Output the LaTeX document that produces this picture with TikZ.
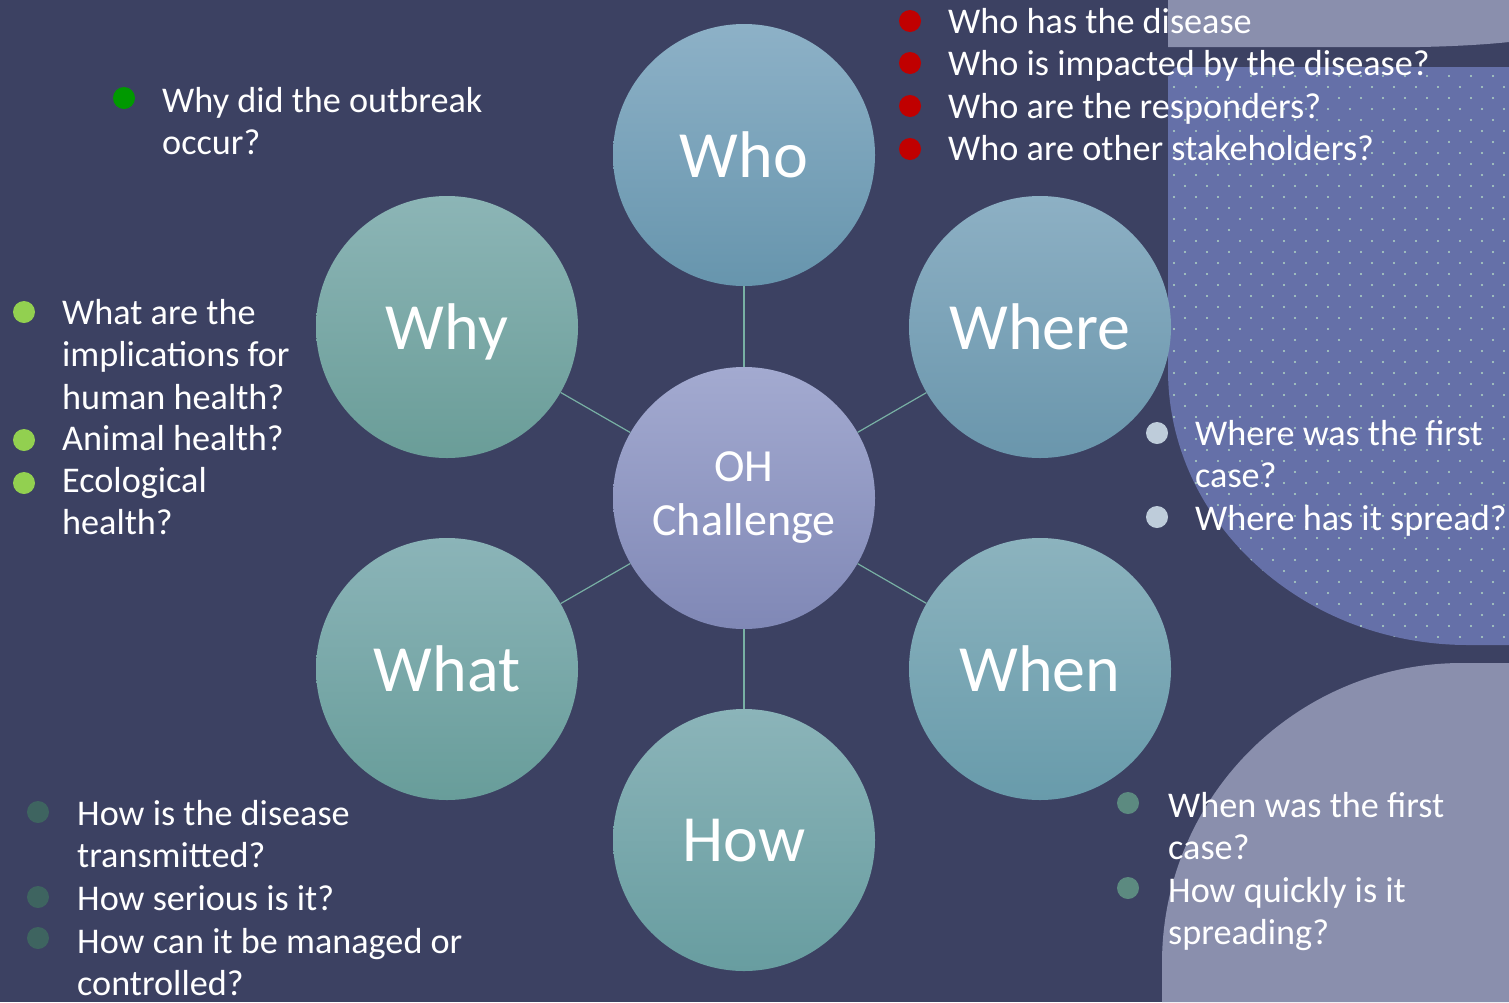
\documentclass[tikz,border=0pt]{standalone}
\usepackage{fontspec}
\setmainfont{Carlito}
\definecolor{slide}{RGB}{60,65,98}
\definecolor{sheet}{RGB}{138,143,173}
\definecolor{dotsheet}{RGB}{101,112,168}
\definecolor{dotcol}{RGB}{176,214,196}
\definecolor{spokecol}{RGB}{120,176,164}
\definecolor{redbul}{RGB}{192,0,0}
\definecolor{greenbul}{RGB}{0,153,0}
\definecolor{limebul}{RGB}{146,208,80}
\definecolor{palebul}{RGB}{190,204,218}
\definecolor{tealbul}{RGB}{92,138,128}
\definecolor{darkbul}{RGB}{62,100,96}
\tikzset{
  topic/.style={circle, minimum size=262pt, inner sep=0pt, text=white,
    font=\fontsize{66}{70}\selectfont, text depth=0pt},
  spoke/.style={draw=spokecol, line width=1.2pt},
  listtext/.style={text=white, inner sep=0pt, align=left, anchor=base west,
    font=\fontsize{36.2}{42.5}\selectfont},
}
\begin{document}
\begin{tikzpicture}[x=1pt,y=-1pt]
\useasboundingbox (0,0) rectangle (1509,1002);
\fill[slide] (0,0) rectangle (1509,1002);

\fill[sheet] (1168,0) -- (1168,47) -- (1420,47) .. controls (1470,46) and (1500,43) .. (1509,42) -- (1509,0) -- cycle;
\fill[dotsheet] (1168,76) to[out=-90,in=180] (1177,67) -- (1509,67) -- (1509,645) -- (1468,645)
  arc[start angle=90, end angle=180, x radius=300, y radius=275] -- cycle;
\begin{scope}
\clip (1168,67) -- (1509,67) -- (1509,645) -- (1468,645)
  arc[start angle=90, end angle=180, x radius=300, y radius=275] -- cycle;
\foreach \r in {0,...,53}{
  \pgfmathsetmacro{\dy}{65+11*\r}
  \pgfmathsetmacro{\dx}{isodd(\r) ? 1185 : 1174}
  \foreach \c in {0,...,15}
    \fill[dotcol] (\dx+22*\c,\dy) circle[radius=1.1pt];
}
\end{scope}
\fill[sheet] (1162,1002) -- (1162,963) arc[start angle=180, end angle=270, radius=300] -- (1509,663) -- (1509,1002) -- cycle;

\node[topic, top color={rgb,255:red,141;green,177;blue,199}, bottom color={rgb,255:red,103;green,149;blue,173}] (who) at (744,155) {Who};
\node[topic, top color={rgb,255:red,141;green,176;blue,196}, bottom color={rgb,255:red,106;green,150;blue,172}] (where) at (1040,327) {Where};
\node[topic, top color={rgb,255:red,140;green,179;blue,190}, bottom color={rgb,255:red,104;green,155;blue,171}] (when) at (1040,669) {When};
\node[topic, top color={rgb,255:red,139;green,180;blue,185}, bottom color={rgb,255:red,104;green,157;blue,160}] (how) at (744,840) {How};
\node[topic, top color={rgb,255:red,139;green,180;blue,184}, bottom color={rgb,255:red,104;green,157;blue,154}] (what) at (447,669) {What};
\node[topic, top color={rgb,255:red,140;green,181;blue,182}, bottom color={rgb,255:red,106;green,157;blue,152}] (why) at (447,327) {Why};
\node[topic, align=center, font=\fontsize{46}{54}\selectfont, text depth=, top color={rgb,255:red,163;green,170;blue,208}, bottom color={rgb,255:red,128;green,136;blue,182}] (oh) at (744,498) {OH\\Challenge};

\draw[spoke] (oh) -- (who);
\draw[spoke] (oh) -- (where);
\draw[spoke] (oh) -- (when);
\draw[spoke] (oh) -- (how);
\draw[spoke] (oh) -- (what);
\draw[spoke] (oh) -- (why);

\foreach \y in {21,63,106,149} \fill[redbul] (910,\y) circle[radius=11pt];
\node[listtext] (whoA) at (948,33) {Who has the disease};
\node[listtext] (whoB) at (948,75.5) {Who is impacted by the disease?};
\node[listtext] (whoC) at (948,118) {Who are the responders?};
\node[listtext] (whoD) at (948,160.5) {Who are other stakeholders?};

\fill[greenbul] (124,98) circle[radius=11pt];
\node[listtext] (whyA) at (162,154.5) {Why did the outbreak\\occur?};

\foreach \y in {312,440,483} \fill[limebul] (24,\y) circle[radius=11pt];
\node[listtext] (whyB) at (62,409) {What are the\\implications for\\human health?};
\node[listtext] (whyC) at (62,450) {Animal health?};
\node[listtext] (whyD) at (62,534.5) {Ecological\\health?};

\foreach \y in {433,517} \fill[palebul] (1157,\y) circle[radius=11pt];
\node[listtext] (whereA) at (1195,487.5) {Where was the first\\case?};
\node[listtext] (whereB) at (1195,530) {Where has it spread?};

\foreach \y in {803,888} \fill[tealbul] (1128,\y) circle[radius=11pt];
\node[listtext] (whenA) at (1168,859.5) {When was the first\\case?};
\node[listtext] (whenB) at (1168,944.5) {How quickly is it\\spreading?};

\foreach \y in {812,897,938} \fill[darkbul] (38,\y) circle[radius=11pt];
\node[listtext] (howA) at (77,867.5) {How is the disease\\transmitted?};
\node[listtext] (howB) at (77,910) {How serious is it?};
\node[listtext] (howC) at (77,995.5) {How can it be managed or\\controlled?};
\end{tikzpicture}
\end{document}
